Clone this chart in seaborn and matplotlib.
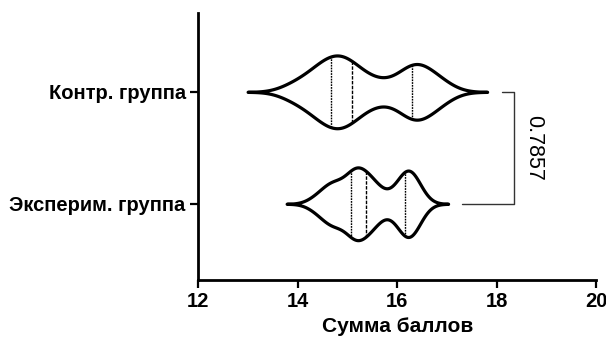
import matplotlib
matplotlib.use('Agg')
import matplotlib.pyplot as plt
import seaborn as sns
import pandas as pd

# данные (оценены по рисунку)
groups = ["Контр. группа", "Эксперим. группа"]
control = [13.9, 14.2, 14.4, 14.5, 14.6, 14.7, 14.8, 14.9, 15.0, 15.0,
           15.2, 15.4, 15.7, 16.1, 16.3, 16.3, 16.4, 16.5, 16.7, 16.9]
experim = [14.4, 14.65, 14.7, 14.75, 15.0, 15.1, 15.15, 15.2, 15.2, 15.3,
           15.45, 15.5, 15.6, 15.95, 16.15, 16.2, 16.2, 16.25, 16.3, 16.4]
p_value = "0.7857"
x_ticks = [12, 14, 16, 18, 20]

df = pd.DataFrame({
    "group": [groups[0]] * len(control) + [groups[1]] * len(experim),
    "score": control + experim,
})

sns.set_theme(style="ticks")
plt.rcParams['font.family'] = ['Liberation Sans', 'DejaVu Sans']
plt.rcParams['text.color'] = 'black'
plt.rcParams['axes.labelcolor'] = 'black'
plt.rcParams['xtick.color'] = 'black'
plt.rcParams['ytick.color'] = 'black'

fig = plt.figure(figsize=(6.06, 3.49), dpi=100)
ax = fig.add_axes([0.327, 0.198, 0.657, 0.765])

sns.violinplot(data=df, x="score", y="group", order=groups, orient="h",
               color="white", linecolor="black", linewidth=2.3,
               inner="quart", inner_kws=dict(linewidth=1.0, color="black"),
               cut=3, bw_adjust=0.6, density_norm="width", width=0.65,
               gridsize=300, ax=ax)

# скобка с p-значением
ax.plot([18.1, 18.35, 18.35, 17.3], [0, 0, 1, 1], color="#333333", lw=1.0,
        clip_on=False)
ax.text(18.75, 0.5, p_value, rotation=-90, ha="center", va="center",
        fontsize=15.5, color="black")

ax.set_xlim(12, 20)
ax.set_ylim(1.68, -0.705)
ax.set_xticks(x_ticks)
ax.set_xlabel("Сумма баллов", fontsize=15, fontweight="bold", labelpad=4)
ax.set_ylabel("")
ax.tick_params(axis="both", labelsize=14.5, width=1.6, length=6,
               color="black", labelcolor="black", pad=3)
for lab in ax.get_xticklabels() + ax.get_yticklabels():
    lab.set_fontweight("bold")
sns.despine(ax=ax)
for s in ["left", "bottom"]:
    ax.spines[s].set_linewidth(2.0)
    ax.spines[s].set_color("black")

plt.savefig("out.png", dpi=100)
plt.close()
